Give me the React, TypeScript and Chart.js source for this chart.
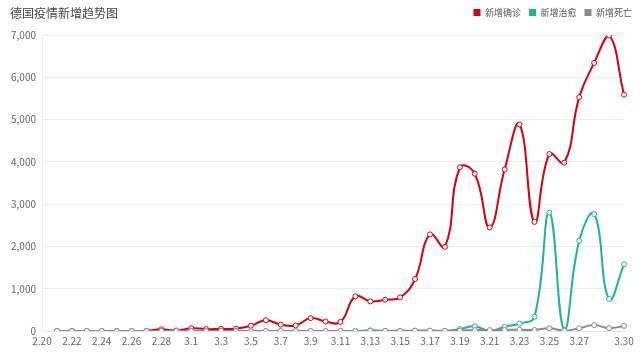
import React, { useEffect, useRef } from "react";
import { Chart, registerables } from "chart.js";

Chart.register(...registerables);

const labels: string[] = [
  "2.20", "2.21", "2.22", "2.23", "2.24", "2.25", "2.26", "2.27", "2.28", "2.29",
  "3.1", "3.2", "3.3", "3.4", "3.5", "3.6", "3.7", "3.8", "3.9", "3.10",
  "3.11", "3.12", "3.13", "3.14", "3.15", "3.16", "3.17", "3.18", "3.19", "3.20",
  "3.21", "3.22", "3.23", "3.24", "3.25", "3.26", "3.27", "3.28", "3.29", "3.30",
];

const confirmed: (number | null)[] = [
  null, 0, 0, 0, 0, 0, 0, 5, 40, 10,
  65, 45, 50, 55, 125, 255, 150, 130, 305, 225,
  215, 820, 700, 740, 795, 1230, 2285, 1990, 3870, 3720,
  2450, 3820, 4885, 2580, 4185, 3980, 5530, 6340, 6990, 5590,
];

const recovered: (number | null)[] = [
  null, 0, 0, 0, 0, 0, 0, 0, 0, 0,
  0, 0, 0, 0, 0, 0, 0, 0, 0, 0,
  0, 0, 15, 0, 0, 0, 5, 0, 45, 110,
  0, 100, 175, 340, 2800, 20, 2135, 2766, 756, 1577,
];

const deaths: (number | null)[] = [
  null, 0, 0, 0, 0, 0, 0, 0, 0, 0,
  0, 0, 0, 0, 0, 0, 0, 0, 2, 0,
  3, 0, 5, 2, 5, 8, 10, 5, 10, 20,
  20, 25, 30, 25, 65, 10, 65, 140, 65, 120,
];

const seriesNames = ["新增确诊", "新增治愈", "新增死亡"];
const seriesColors = ["#d7000f", "#22b297", "#8a8a8a"];

const FONT = '"Microsoft YaHei", "Noto Sans CJK SC", "Noto Sans", sans-serif';

const legendSpacer = {
  id: "legendSpacer",
  beforeLayout(chart: any) {
    const lg = chart.legend;
    if (lg && !lg.__patched) {
      const origFit = lg.fit;
      lg.fit = function (this: any) {
        origFit.call(this);
        this.height += 8;
      };
      lg.__patched = true;
    }
  },
};

export default function App() {
  const canvasRef = useRef<HTMLCanvasElement | null>(null);

  useEffect(() => {
    if (!canvasRef.current) return;
    const series = [confirmed, recovered, deaths];
    const orders = [2, 1, 0];
    const chart = new Chart(canvasRef.current, {
      type: "line",
      data: {
        labels,
        datasets: series.map((d, i) => ({
          label: seriesNames[i],
          data: d,
          borderColor: seriesColors[i],
          backgroundColor: seriesColors[i],
          pointBackgroundColor: "#ffffff",
          pointBorderColor: seriesColors[i],
          pointBorderWidth: 1,
          pointRadius: 2.5,
          borderWidth: 2,
          tension: 0.45,
          fill: false,
          order: orders[i],
        })),
      },
      plugins: [legendSpacer],
      options: {
        animation: false,
        responsive: true,
        maintainAspectRatio: false,
        layout: { padding: { top: 0, right: 0, left: 0, bottom: 0 } },
        plugins: {
          title: { display: false },
          tooltip: { enabled: false },
          legend: {
            display: true,
            position: "top",
            align: "end",
            labels: {
              boxWidth: 7,
              boxHeight: 7,
              padding: 8,
              color: "#555",
              font: { size: 9, family: FONT },
              sort: (a: any, b: any) => a.datasetIndex - b.datasetIndex,
              generateLabels: (chart: any) =>
                chart.data.datasets.map((ds: any, i: number) => ({
                  text: ds.label,
                  fillStyle: ds.borderColor,
                  strokeStyle: ds.borderColor,
                  lineWidth: 0,
                  hidden: false,
                  datasetIndex: i,
                  fontColor: "#555",
                })),
            },
          },
        },
        scales: {
          x: {
            type: "category",
            offset: false,
            grid: { display: false, drawTicks: false },
            border: { display: true, color: "#e6e6e6" },
            ticks: {
              autoSkip: false,
              maxRotation: 0,
              minRotation: 0,
              padding: 4,
              color: "#666",
              font: { size: 10, family: FONT },
              callback: (_v: any, idx: number) =>
                (idx % 2 === 0 && idx !== labels.length - 2) || idx === labels.length - 1
                  ? labels[idx]
                  : "",
            },
            afterFit: (scale: any) => {
              scale.height = 24;
              scale.paddingRight = 16;
            },
          },
          y: {
            min: 0,
            max: 7000,
            grid: { color: "#ececec", drawTicks: false },
            border: { display: true, color: "#ececec" },
            ticks: {
              stepSize: 1000,
              padding: 6,
              color: "#666",
              font: { size: 10, family: FONT },
              callback: (v: any) => Number(v).toLocaleString("en-US"),
            },
            afterFit: (scale: any) => {
              scale.width = 42;
            },
          },
        },
      },
    });
    return () => chart.destroy();
  }, []);

  return (
    <div style={{ position: "absolute", left: 0, top: 0, width: 640, height: 355, background: "#fff" }}>
      <div
        style={{
          position: "absolute",
          left: 10,
          top: 4,
          fontSize: 12,
          lineHeight: "18px",
          color: "#444",
          fontFamily: FONT,
        }}
      >
        德国疫情新增趋势图
      </div>
      <canvas ref={canvasRef} width={640} height={355} />
    </div>
  );
}
